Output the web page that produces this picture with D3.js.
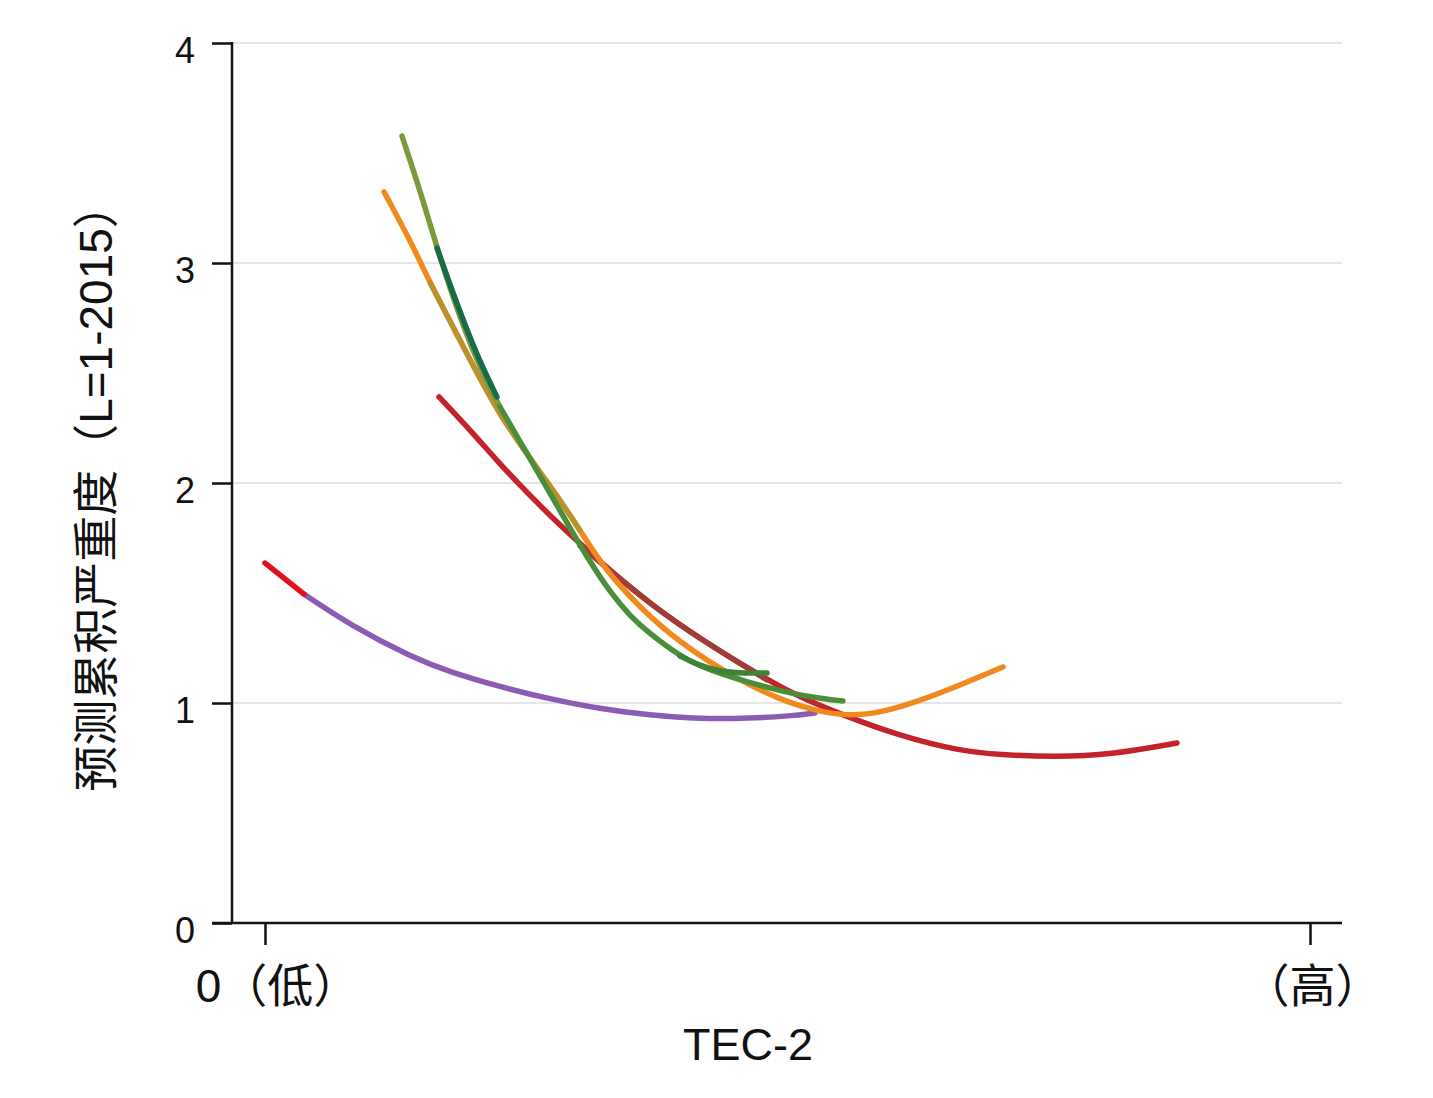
<!DOCTYPE html>
<html><head><meta charset="utf-8">
<script src="https://cdn.jsdelivr.net/npm/d3@7"></script>
<style>
html,body{margin:0;padding:0;background:#fff;}
svg{display:block;}
</style></head>
<body>
<script>
// ---- data (x: 0 = 低 … 10 = 高, y: predicted cumulative severity) ----
const yTicks = [0, 1, 2, 3, 4];
const xTickValues = [0, 10];
const xTickLabels = ["0（低）", "（高）"];
const xTitle = "TEC-2";
const yTitle = "预测累积严重度（L=1-2015）";

const redStart = [[0,1.636],[0.191,1.564],[0.373,1.495]];
const purple = [[0.373,1.495],[0.813,1.355],[1.416,1.205],[1.770,1.141],[2.249,1.073],[2.727,1.018],[3.206,0.973],[3.684,0.945],[4.163,0.927],[4.641,0.930],[5.024,0.941],[5.263,0.955]];
const olive = [[1.311,3.577],[1.483,3.332],[1.675,3.023],[1.866,2.750],[2.057,2.523],[2.249,2.345]];
const teal = [[1.646,3.068],[1.770,2.900],[1.914,2.718],[2.057,2.550],[2.220,2.391]];
const greenLower = [[2.249,2.345],[2.488,2.150],[2.699,1.977],[2.919,1.795],[3.110,1.641],[3.301,1.505],[3.493,1.395],[3.684,1.314],[3.971,1.214],[4.163,1.168],[4.450,1.118],[4.928,1.055],[5.215,1.027],[5.531,1.009]];
const greenUpper = [[3.971,1.214],[4.163,1.168],[4.383,1.141],[4.593,1.136],[4.804,1.136]];
const orange = [[1.139,3.323],[1.388,3.105],[1.579,2.909],[1.866,2.650],[2.249,2.295],[2.727,1.991],[3.014,1.786],[3.234,1.618],[3.589,1.432],[3.971,1.273],[4.478,1.118],[4.928,1.014],[5.311,0.959],[5.598,0.941],[5.885,0.955],[6.268,1.009],[6.746,1.100],[7.062,1.164]];
const oliveOverlay = [[1.579,2.909],[1.866,2.650],[2.249,2.295],[2.727,1.991],[3.014,1.786]];
const red = [[1.665,2.391],[1.962,2.241],[2.249,2.086],[2.411,2.005],[2.727,1.850],[3.206,1.641],[3.684,1.450],[4.163,1.291],[4.804,1.105],[5.120,1.027],[5.502,0.950],[6.077,0.850],[6.651,0.782],[7.033,0.764],[7.560,0.755],[8.086,0.764],[8.727,0.818]];
const brown = [[3.014,1.715],[3.206,1.641],[3.684,1.450],[4.163,1.291],[4.804,1.105]];

const series = [
  {name:"purple", data:purple, color:"#8b5cb4", op:1},
  {name:"redStart", data:redStart, color:"#e3101b", op:1},
  {name:"red", data:red, color:"#c4232b", op:1},
  {name:"brown", data:brown, color:"#9f3d36", op:1},
  {name:"orange", data:orange, color:"#f08a1e", op:1},
  {name:"oliveOverlay", data:oliveOverlay, color:"#7b9a3d", op:0.45},
  {name:"olive", data:olive, color:"#7b9a3d", op:1},
  {name:"teal", data:teal, color:"#176b45", op:1},
  {name:"greenLower", data:greenLower, color:"#4a8e3a", op:1},
  {name:"greenUpper", data:greenUpper, color:"#3f8436", op:1}
];

// ---- layout ----
const W = 1433, H = 1098;
const plotL = 232, plotR = 1342, plotT = 43, plotB = 923;

const svg = d3.select("body").append("svg").attr("width", W).attr("height", H);

const x = d3.scaleLinear().domain([0, 10]).range([265, 1310]);
const y = d3.scaleLinear().domain([0, 4]).range([plotB, plotT]);

// gridlines
svg.append("g").selectAll("line").data(yTicks.filter(d => d > 0)).join("line")
  .attr("x1", plotL).attr("x2", plotR)
  .attr("y1", d => y(d)).attr("y2", d => y(d))
  .attr("stroke", "#dcdcdc").attr("stroke-width", 1.5);

// y axis
const yAxis = d3.axisLeft(y).tickValues(yTicks).tickSize(20).tickPadding(0).tickFormat(d3.format("d"));
const gy = svg.append("g").attr("transform", `translate(${plotL},0)`).call(yAxis);
gy.select(".domain").remove();
gy.selectAll(".tick line").attr("stroke", "#111").attr("stroke-width", 2.5);
gy.selectAll(".tick text")
  .attr("x", -37).attr("dy", "0.55em")
  .attr("font-family", "'Liberation Sans', Arial, sans-serif")
  .attr("font-size", 36).attr("fill", "#111").attr("text-anchor", "end");
svg.append("line").attr("x1", plotL).attr("x2", plotL).attr("y1", plotT - 1).attr("y2", plotB + 1)
  .attr("stroke", "#111").attr("stroke-width", 2.5);

// x axis
const xAxis = d3.axisBottom(x).tickValues(xTickValues).tickSize(22).tickPadding(0)
  .tickFormat((d, i) => xTickLabels[i]);
const gx = svg.append("g").attr("transform", `translate(0,${plotB})`).call(xAxis);
gx.select(".domain").remove();
gx.selectAll(".tick line").attr("stroke", "#111").attr("stroke-width", 2.5);
gx.selectAll(".tick text")
  .attr("y", 79).attr("dy", 0)
  .attr("dx", (d, i) => i === 0 ? 12 : 2)
  .attr("font-family", "'Liberation Sans', 'Noto Sans CJK SC', sans-serif")
  .attr("font-size", 46).attr("fill", "#111");
svg.append("line").attr("x1", 212).attr("x2", plotR).attr("y1", plotB).attr("y2", plotB)
  .attr("stroke", "#111").attr("stroke-width", 2.5);

// titles
svg.append("text").attr("x", 748).attr("y", 1060).attr("text-anchor", "middle")
  .attr("font-family", "'Liberation Sans', Arial, sans-serif").attr("font-size", 45).attr("fill", "#111")
  .text(xTitle);
svg.append("text").attr("transform", "translate(112,487) rotate(-90)").attr("text-anchor", "middle")
  .attr("font-family", "'Liberation Sans', 'Noto Sans CJK SC', sans-serif").attr("font-size", 46).attr("fill", "#111")
  .text(yTitle);

// curves
const line = d3.line().x(d => x(d[0])).y(d => y(d[1])).curve(d3.curveBasis);
svg.append("g").selectAll("path").data(series).join("path")
  .attr("d", d => line(d.data))
  .attr("fill", "none")
  .attr("stroke", d => d.color)
  .attr("stroke-opacity", d => d.op)
  .attr("stroke-width", 5.5)
  .attr("stroke-linecap", "round")
  .attr("stroke-linejoin", "round");
</script>
</body></html>
